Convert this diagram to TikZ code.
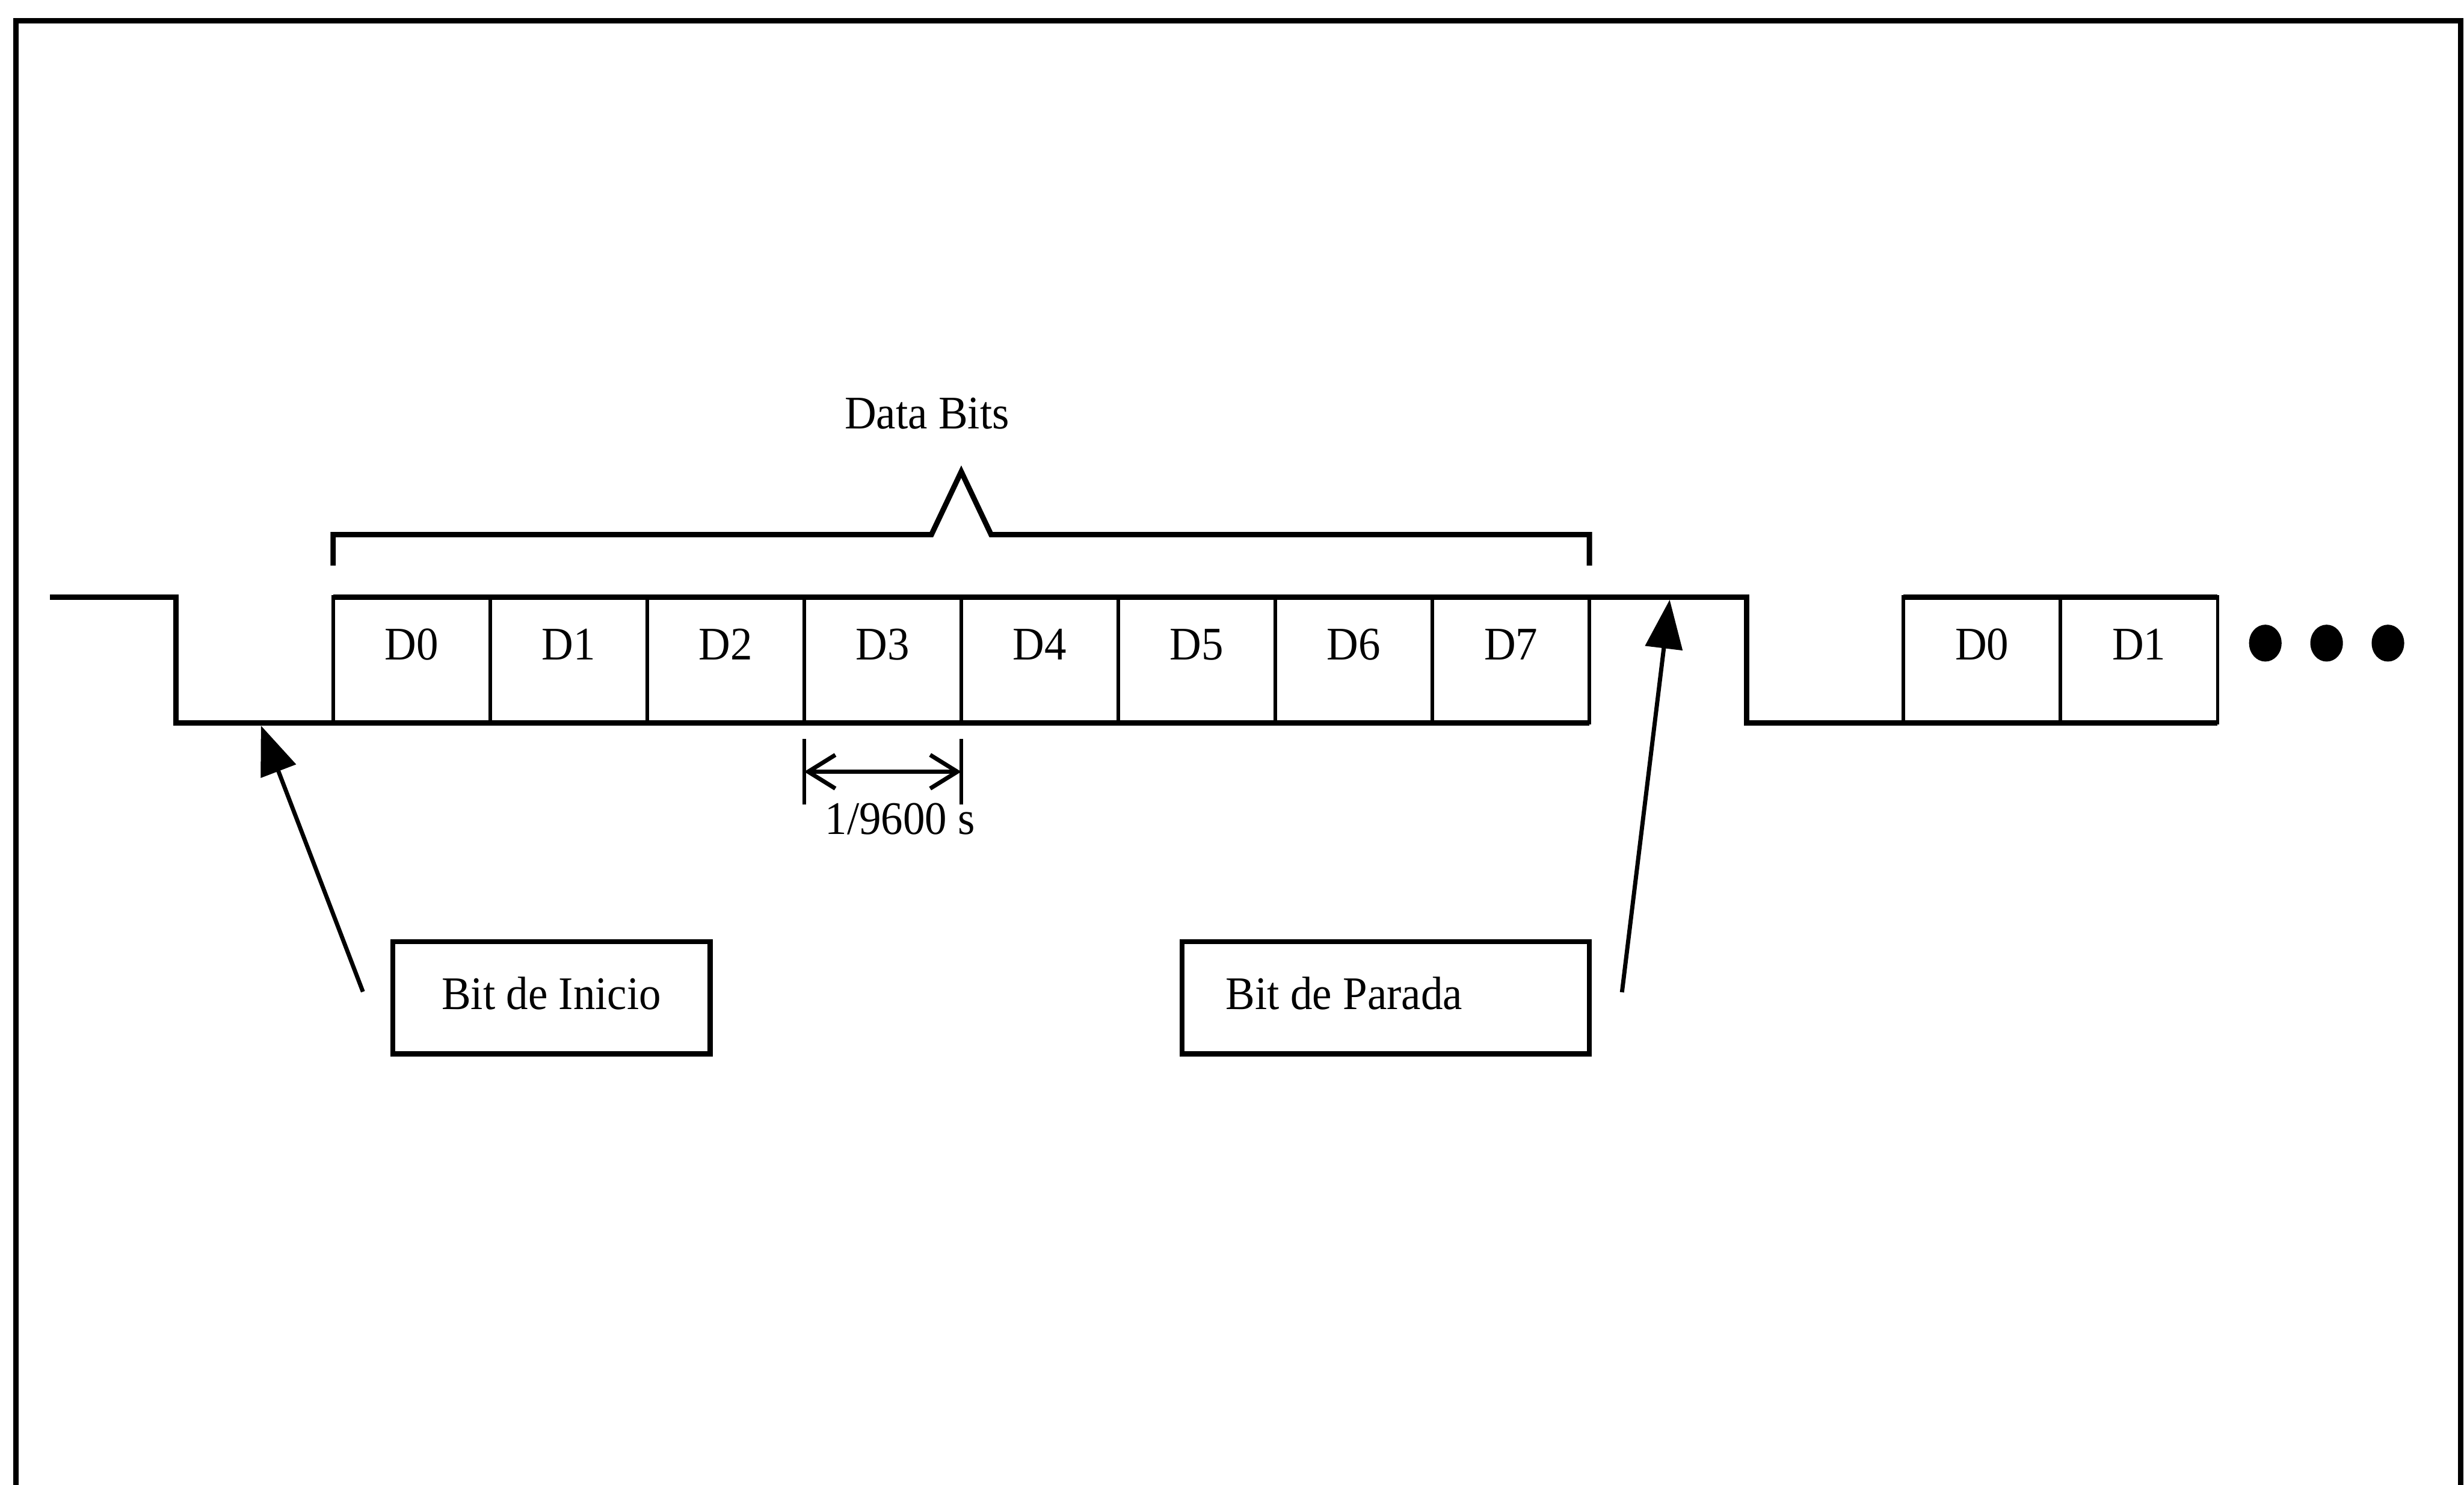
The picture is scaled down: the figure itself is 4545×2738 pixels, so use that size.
\documentclass[tikz,border=0pt]{standalone}
\usepackage{fontspec}
\setmainfont{Liberation Serif}[FakeStretch=0.94]
\usetikzlibrary{positioning,arrows.meta}

\begin{document}
\begin{tikzpicture}[x=0.01cm, y=-0.01cm,
    font=\fontsize{24.5}{29}\selectfont,
    signal/.style={line width=2.8pt},
    bitbox/.style={draw, line width=1.8pt, minimum width=2.895cm, minimum height=2.32cm,
        inner sep=0pt, outer sep=0pt, text height=0.3cm, text depth=0.3cm},
    labelbox/.style={draw, line width=2.6pt, minimum height=2.07cm, inner sep=0pt,
        outer sep=0pt, text height=0.62cm, text depth=0.2cm},
    pointer/.style={line width=2.2pt, -{Triangle[length=0.9cm, width=0.68cm]}},
    dimline/.style={line width=2.2pt,
        {Straight Barb[length=0.5cm, width=0.62cm]}-{Straight Barb[length=0.5cm, width=0.62cm]}}]

    \useasboundingbox (0,0) rectangle (4545,2738);

    \draw[line width=2.8pt] (29,2738) -- (29,38) -- (4539,38) -- (4539,2738);

    \node[bitbox] (d0) at (759.25,1217) {D0};
    \foreach \i [remember=\i as \j (initially 0)] in {1,...,7}
        \node[bitbox, right=0pt of d\j] (d\i) {D\i};

    \node[bitbox, right=5.79cm of d7] (e0) {D0};
    \node[bitbox, right=0pt of e0] (e1) {D1};

    \draw[signal] ([xshift=-5.215cm]d0.north west) -- ([xshift=-2.895cm]d0.north west)
        -- ([xshift=-2.895cm]d0.south west) -- (d7.south east);
    \draw[signal] (d0.north west) -- (d7.north east) -- ([xshift=2.895cm]d7.north east)
        -- ([xshift=2.895cm]d7.south east) -- (e1.south east);
    \draw[signal] (e0.north west) -- (e1.north east);

    \coordinate (peak) at ([yshift=2.31cm]d3.north east);
    \draw[signal] ([yshift=0.58cm]d0.north west) -- ([yshift=1.15cm]d0.north west)
        -- ([xshift=-0.55cm, yshift=1.15cm]d3.north east) -- (peak)
        -- ([xshift=0.55cm, yshift=1.15cm]d3.north east)
        -- ([yshift=1.15cm]d7.north east) -- ([yshift=0.58cm]d7.north east);
    \node[anchor=base] (databits) at ([xshift=-0.63cm, yshift=0.79cm]peak) {Data Bits};

    \draw[line width=1.8pt] ([yshift=-0.3cm]d3.south west) -- ([yshift=-1.5cm]d3.south west);
    \draw[line width=1.8pt] ([yshift=-0.3cm]d3.south east) -- ([yshift=-1.5cm]d3.south east);
    \draw[dimline] ([yshift=-0.9cm]d3.south west) -- ([yshift=-0.9cm]d3.south east);
    \node[anchor=base] (period) at ([xshift=0.32cm, yshift=-2.05cm]d3.south) {1/9600 s};

    \node[labelbox, minimum width=5.85cm, below right=4.03cm and 1.1cm of d0.south west] (inicio) {Bit de Inicio};
    \node[labelbox, minimum width=7.51cm, below left=4.03cm and 0cm of d7.south east] (parada)
        {\makebox[5.89cm][l]{Bit de Parada}};

    \draw[pointer] ([xshift=-0.55cm, yshift=0.11cm]inicio.west) -- ([xshift=-1.33cm, yshift=-0.05cm]d0.south west);
    \draw[pointer] ([xshift=0.6cm, yshift=0.1cm]parada.east) -- ([xshift=1.48cm, yshift=-0.05cm]d7.north east);

    \foreach \k in {0,1,2}
        \fill ([xshift={0.88cm+\k*1.13cm}, yshift=0.31cm]e1.east) ellipse [x radius=0.3cm, y radius=0.34cm];

\end{tikzpicture}
\end{document}
